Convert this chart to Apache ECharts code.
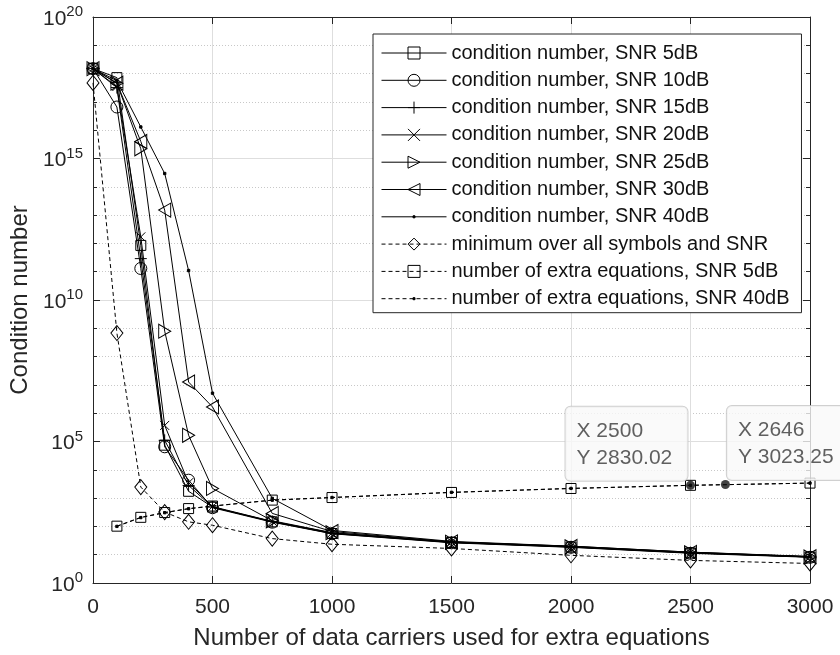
<!DOCTYPE html>
<html><head><meta charset="utf-8">
<script src="https://cdn.jsdelivr.net/npm/echarts@6/dist/echarts.min.js"></script>
<style>html,body{margin:0;padding:0;background:#fff}#c{width:840px;height:655px}</style>
</head><body><div id="c"></div>
<script>
// ---- data (condition numbers) ----
const carriers = [0, 100, 200, 300, 400, 500, 750, 1000, 1500, 2000, 2500, 3000];
const cond5  = [1.5e18, 7.2e17, 8.5e11, 7.4e4, 1.74e3, 480, 145, 56, 27, 18.6, 11.5, 8.3];
const cond10 = [1.5e18, 6.6e16, 1.3e11, 6.5e4, 4.3e3, 457, 141, 55, 26.3, 18.2, 11.2, 8.1];
const cond15 = [1.5e18, 3.2e17, 2.9e11, 1.1e5, 2.8e3, 480, 148, 57.5, 27.5, 19, 11.7, 8.3];
const cond20 = [1.5e18, 3.5e17, 1.7e12, 3.7e5, 3.5e3, 500, 151, 59, 28.2, 20, 12.3, 8.5];
const cond25 = [1.5e18, 4.6e17, 2.2e15, 7.9e8, 1.66e5, 2.2e3, 158, 60, 27.5, 19, 11.7, 8.3];
const cond30 = [1.5e18, 4.6e17, 4.0e15, 1.5e13, 1.26e7, 1.66e6, 288, 66, 28.2, 19.5, 12, 8.5];
const cond40 = [1.5e18, 5.6e17, 1.3e16, 2.95e14, 1.1e11, 5.1e6, 980, 72, 29.5, 20, 12.3, 8.7];
const minAll = [4.7e17, 6.8e8, 2.45e3, 320, 145, 110, 37, 23.4, 16.6, 9.5, 6.3, 4.9];
const extraCarriers = [100, 200, 300, 400, 500, 750, 1000, 1500, 2000, 2500, 3000];
const extra5  = [102, 209, 309, 426, 525, 850, 1047, 1585, 2188, 2830.02, 3388];
const extra40 = [100, 205, 305, 420, 520, 845, 1050, 1600, 2200, 2830.02, 3390];
const tipX = [2500, 2646];
const tipY = [2830.02, 3023.25];
const xTicks = [0, 500, 1000, 1500, 2000, 2500, 3000];
const yExponents = [0, 5, 10, 15, 20];

const names = [
  'condition number, SNR 5dB', 'condition number, SNR 10dB', 'condition number, SNR 15dB',
  'condition number, SNR 20dB', 'condition number, SNR 25dB', 'condition number, SNR 30dB',
  'condition number, SNR 40dB', 'minimum over all symbols and SNR',
  'number of extra equations, SNR 5dB', 'number of extra equations, SNR 40dB'
];

const DOT = 'path://M0,0M12,12M5,5L7,5L7,7L5,7Z';
const PLUS = 'path://M5,0L5,10M0,5L10,5';
const CROSS = 'path://M0,0L10,10M10,0L0,10';
const TRI_R = 'path://M0,0L10,5L0,10Z';
const TRI_L = 'path://M10,0L0,5L10,10Z';

function pts(xs, ys) { return xs.map((x, i) => [x, Math.log10(ys[i])]); }

function lineSeries(name, xs, ys, symbol, size, dashed, filled) {
  return {
    name, type: 'line', data: pts(xs, ys), symbol, symbolSize: size,
    showSymbol: true, showAllSymbol: true, animation: false, z: 3,
    lineStyle: { color: '#000', width: 1, type: dashed ? [4, 3] : 'solid' },
    itemStyle: { color: filled ? '#000' : 'rgba(0,0,0,0)', borderColor: '#000', borderWidth: 1 },
    emphasis: { disabled: true }
  };
}

const TIP_W = 97;
const series = [
  lineSeries(names[0], carriers, cond5, 'rect', 10, false),
  lineSeries(names[1], carriers, cond10, 'circle', 12, false),
  lineSeries(names[2], carriers, cond15, PLUS, 12, false),
  lineSeries(names[3], carriers, cond20, CROSS, 9, false),
  lineSeries(names[4], carriers, cond25, TRI_R, [12, 14], false),
  lineSeries(names[5], carriers, cond30, TRI_L, [12, 14], false),
  lineSeries(names[6], carriers, cond40, DOT, 14, false, true),
  lineSeries(names[7], carriers, minAll, 'diamond', [12, 15], true),
  lineSeries(names[8], extraCarriers, extra5, 'rect', 10, true),
  lineSeries(names[9], extraCarriers, extra40, DOT, 14, true, true),
  {
    name: 'tips', type: 'scatter', z: 6, animation: false,
    symbol: 'circle', symbolSize: 9, itemStyle: { color: '#111' },
    data: tipX.map((x, i) => ({
      value: [x, Math.log10(tipY[i])],
      label: {
        show: true,
        position: i === 0 ? [1.5 - (TIP_W + 25), 0] : [6, 0],
        align: 'left',
        verticalAlign: 'bottom',
        width: TIP_W,
        formatter: 'X ' + x + '\nY ' + tipY[i].toFixed(2),
        fontFamily: 'Liberation Sans', fontSize: 21, lineHeight: 27, color: '#383838',
        backgroundColor: '#f9f9f9', borderColor: '#c4c4c4', borderWidth: 1, borderRadius: 5,
        padding: [11, 14, 9, 11]
      }
    })),
    emphasis: { disabled: true }
  }
];

const axisColor = '#262626';
const chart = echarts.init(document.getElementById('c'), null, { renderer: 'canvas' });
chart.setOption({
  backgroundColor: '#fff',
  animation: false,
  textStyle: { fontFamily: 'Liberation Sans' },
  grid: { left: 93, right: 30, top: 17, bottom: 72, containLabel: false },
  legend: {
    data: names, orient: 'vertical', left: 373, top: 34,
    itemWidth: 65, itemHeight: 15, itemGap: 7.3,
    padding: [9, 12, 4, 8],
    backgroundColor: '#fff', borderColor: '#262626', borderWidth: 1,
    itemStyle: { borderWidth: 1 },
    lineStyle: { width: 1 },
    textStyle: { fontFamily: 'Liberation Sans', fontSize: 20, color: '#111' },
    selectedMode: false
  },
  xAxis: [{
    type: 'value', min: 0, max: 3000, interval: 500, position: 'bottom',
    name: 'Number of data carriers used for extra equations', nameLocation: 'middle', nameGap: 43,
    nameTextStyle: { fontFamily: 'Liberation Sans', fontSize: 24, color: axisColor },
    axisLine: { show: true, lineStyle: { color: axisColor, width: 1 } },
    axisTick: { show: true, inside: true, length: 7, lineStyle: { color: axisColor } },
    axisLabel: { show: true, margin: 14, fontSize: 21, color: axisColor, fontFamily: 'Liberation Sans',
      formatter: v => xTicks.includes(v) ? String(v) : '' },
    splitLine: { show: true, lineStyle: { color: '#dedede', width: 1 } }
  }, {
    type: 'value', min: 0, max: 3000, interval: 500, position: 'top',
    axisLine: { show: true, onZero: false, lineStyle: { color: axisColor, width: 1 } },
    axisTick: { show: true, inside: true, length: 7, lineStyle: { color: axisColor } },
    axisLabel: { show: false }, splitLine: { show: false }
  }],
  yAxis: [{
    type: 'value', min: 0, max: 20, interval: 5, position: 'left',
    name: 'Condition number', nameLocation: 'middle', nameGap: 60,
    nameTextStyle: { fontFamily: 'Liberation Sans', fontSize: 24, color: axisColor },
    axisLine: { show: true, onZero: false, lineStyle: { color: axisColor, width: 1 } },
    axisTick: { show: true, inside: true, length: 7, lineStyle: { color: axisColor } },
    minorTick: { show: true, splitNumber: 5, length: 4, lineStyle: { color: axisColor } },
    minorSplitLine: { show: true, lineStyle: { color: '#c8c8c8', type: [1, 2], width: 1 } },
    splitLine: { show: true, lineStyle: { color: '#dedede', width: 1 } },
    axisLabel: {
      show: true, margin: 10, color: axisColor,
      formatter: v => yExponents.includes(v) ? '{b|10}{s|' + v + '}' : '',
      rich: {
        b: { fontFamily: 'Liberation Sans', fontSize: 21, color: axisColor, lineHeight: 21, verticalAlign: 'bottom' },
        s: { fontFamily: 'Liberation Sans', fontSize: 15, color: axisColor, lineHeight: 25, verticalAlign: 'top' }
      }
    }
  }, {
    type: 'value', min: 0, max: 20, interval: 5, position: 'right',
    axisLine: { show: true, onZero: false, lineStyle: { color: axisColor, width: 1 } },
    axisTick: { show: true, inside: true, length: 7, lineStyle: { color: axisColor } },
    minorTick: { show: true, splitNumber: 5, length: 4, lineStyle: { color: axisColor } },
    axisLabel: { show: false }, splitLine: { show: false }
  }],
  series
});
</script>
</body></html>
